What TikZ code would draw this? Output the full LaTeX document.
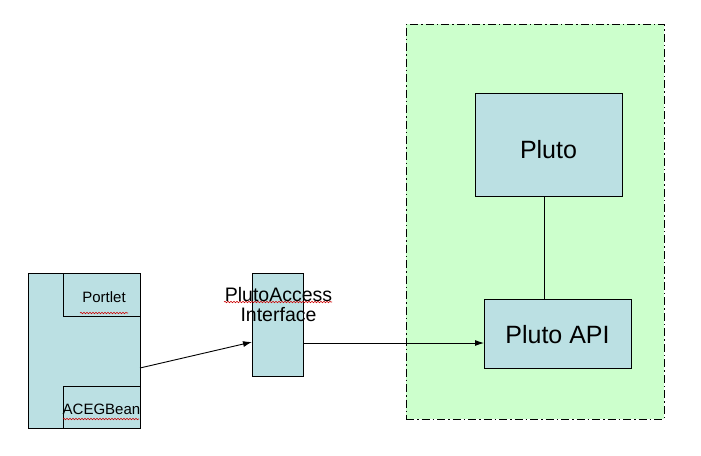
\documentclass[tikz,border=0pt]{standalone}
\usepackage{fontspec}
\setmainfont{Liberation Sans}
\usetikzlibrary{arrows.meta,decorations.pathmorphing}
\definecolor{boxblue}{RGB}{187,224,227}
\definecolor{zonegreen}{RGB}{204,255,204}
\tikzset{
  box/.style={draw=black, fill=boxblue, line width=0.9pt, anchor=north west, inner sep=0pt, outer sep=0pt},
  zone/.style={draw=black, fill=zonegreen, line width=0.9pt, anchor=north west, inner sep=0pt, outer sep=0pt,
    dash pattern=on 8pt off 3pt on 1.5pt off 3pt},
  big/.style={font=\fontsize{25}{30}\selectfont},
  mid/.style={font=\fontsize{19.5}{23}\selectfont, align=center},
  small/.style={font=\fontsize{15}{18}\selectfont},
  conn/.style={line width=0.9pt},
  arr/.style={conn, -{Latex[length=9pt,width=6pt]}},
  spell/.style={draw=red!80!black, line width=0.6pt, decorate, decoration={snake, segment length=3pt, amplitude=0.7pt}}
}
\begin{document}
\begin{tikzpicture}[x=1pt,y=-1pt]
\useasboundingbox (0,0) rectangle (701,455);
% container zone
\node[zone, minimum width=258pt, minimum height=395pt] (zone) at (406,24) {};
% Pluto boxes
\node[box, minimum width=147pt, minimum height=103pt] (pluto) at (475,93) {};
\node[big] (plutotxt) at (548.5,150) {Pluto};
\node[box, minimum width=147pt, minimum height=69pt] (api) at (484,299) {};
\node[big] (apitxt) at (557.5,335) {Pluto API};
\draw[conn] ([xshift=-4.5pt]pluto.south) -- ([xshift=-4.5pt]pluto.south |- api.north);
% left component
\node[box, minimum width=112pt, minimum height=155pt] (comp) at (28,273) {};
\node[box, minimum width=77pt, minimum height=43pt] (portlet) at (63,273) {};
\node[box, minimum width=77pt, minimum height=42pt] (aceg) at (63,386) {};
\node[small] (portlettxt) at (104,297) {Portlet};
\node[small] (acegtxt) at (101.5,409) {ACEGBean};
% interface
\node[box, minimum width=51pt, minimum height=103pt] (iface) at (252,273) {};
\node[mid] (ifacetxt) at (278.5,305) {PlutoAccess\\[-3pt]Interface};
% spell-check underlines
\coordinate (u1a) at (80,313); \coordinate (u1b) at (128,313);
\coordinate (u2a) at (63,419); \coordinate (u2b) at (139,419);
\coordinate (u3a) at (224,302); \coordinate (u3b) at (332,302);
\draw[spell] (u1a) -- (u1b);
\draw[spell] (u2a) -- (u2b);
\draw[spell] (u3a) -- (u3b);
% connectors
\draw[arr] ([yshift=-17.5pt]comp.east) -- ([yshift=-17.5pt]iface.west);
\draw[arr] ([yshift=-18.5pt]iface.east) -- ([yshift=-18.5pt]iface.east -| api.west);
\end{tikzpicture}
\end{document}
